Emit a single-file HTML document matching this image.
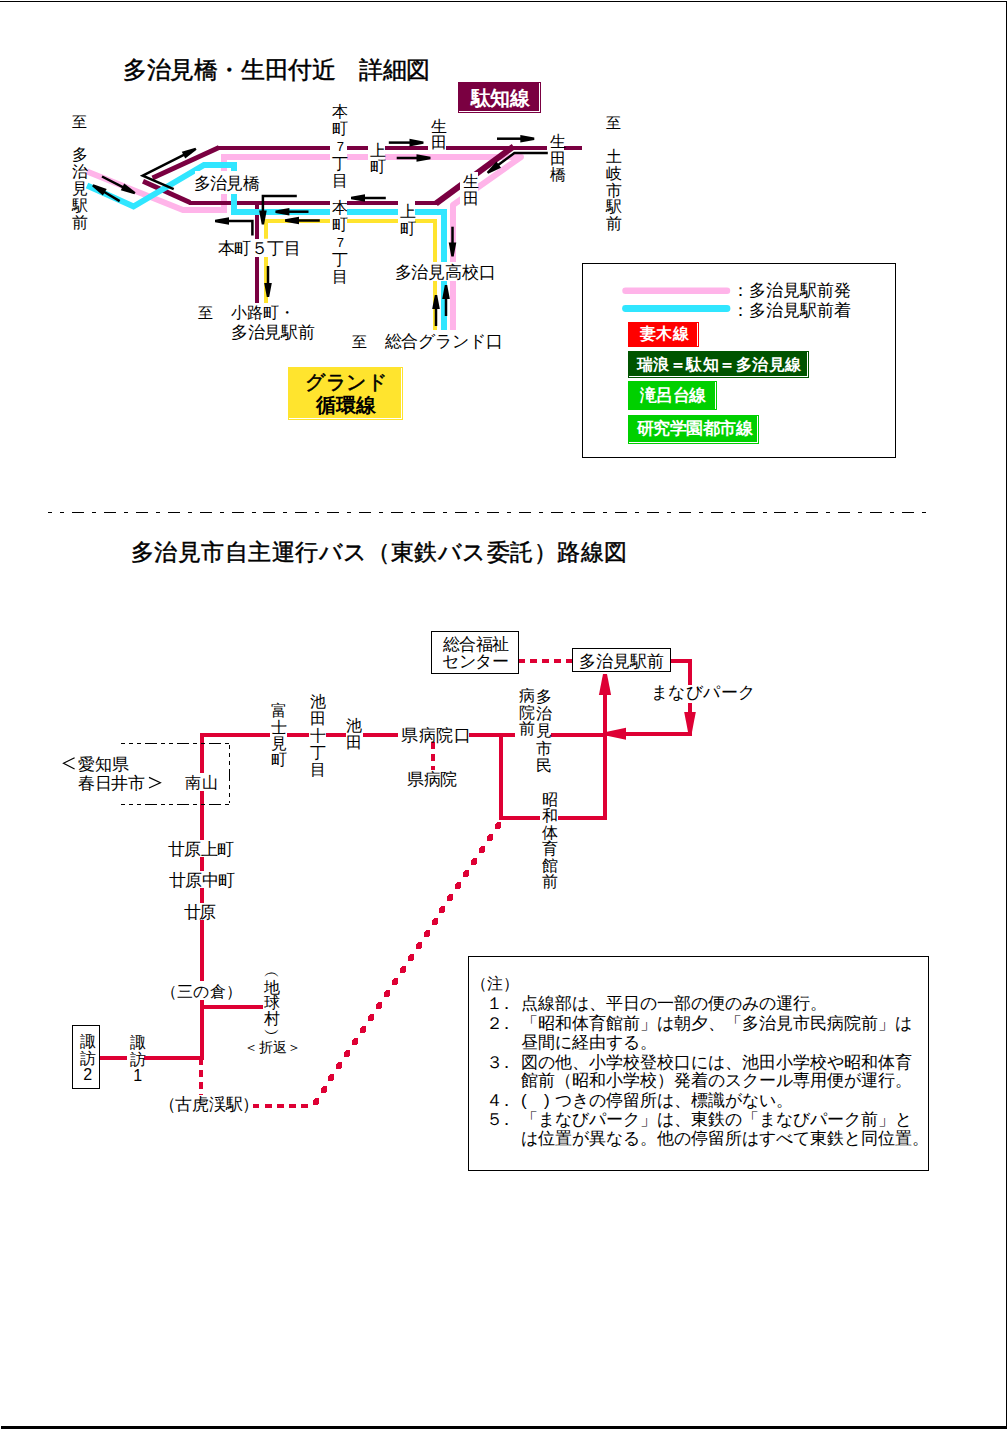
<!DOCTYPE html>
<html lang="ja"><head><meta charset="utf-8"><title>路線図</title>
<style>
html,body{margin:0;padding:0;background:#fff;}
body{width:1008px;height:1430px;position:relative;overflow:hidden;font-family:"Liberation Sans",sans-serif;color:#000;}
.t{position:absolute;white-space:nowrap;}
.bgx{position:absolute;background:#fff;}
</style></head><body>
<svg width="1008" height="1430" style="position:absolute;left:0;top:0"><polyline points="87.00,171.50 183.00,210.00 224.00,210.00 224.00,157.00 330.00,157.00" fill="none" stroke="#ffb4e9" stroke-width="6" stroke-linejoin="miter" stroke-linecap="butt" stroke-miterlimit="10" />
<rect x="347.00" y="154.00" width="21.00" height="6.00" fill="#ffb4e9" shape-rendering="crispEdges" />
<polyline points="385.00,157.00 521.00,157.00 453.00,205.00 453.00,330.00" fill="none" stroke="#ffb4e9" stroke-width="6" stroke-linejoin="round" stroke-linecap="butt" stroke-miterlimit="10" />
<rect x="218.00" y="146.00" width="112.00" height="4.00" fill="#7a0041" shape-rendering="crispEdges" />
<rect x="347.00" y="146.00" width="21.00" height="4.00" fill="#7a0041" shape-rendering="crispEdges" />
<rect x="385.00" y="146.00" width="43.00" height="4.00" fill="#7a0041" shape-rendering="crispEdges" />
<rect x="446.00" y="146.00" width="101.00" height="4.00" fill="#7a0041" shape-rendering="crispEdges" />
<rect x="564.00" y="146.00" width="18.00" height="4.00" fill="#7a0041" shape-rendering="crispEdges" />
<polyline points="219.00,147.50 152.50,178.00" fill="none" stroke="#7a0041" stroke-width="4.8" stroke-linejoin="miter" stroke-linecap="butt" stroke-miterlimit="10" />
<polyline points="143.00,181.20 190.00,202.50" fill="none" stroke="#7a0041" stroke-width="4.8" stroke-linejoin="miter" stroke-linecap="butt" stroke-miterlimit="10" />
<rect x="189.00" y="201.00" width="141.00" height="4.00" fill="#7a0041" shape-rendering="crispEdges" />
<rect x="347.00" y="201.00" width="51.00" height="4.00" fill="#7a0041" shape-rendering="crispEdges" />
<rect x="415.00" y="201.00" width="22.00" height="4.00" fill="#7a0041" shape-rendering="crispEdges" />
<polyline points="436.00,203.50 513.50,146.50" fill="none" stroke="#7a0041" stroke-width="6" stroke-linejoin="miter" stroke-linecap="butt" stroke-miterlimit="10" />
<rect x="255.00" y="203.00" width="4.00" height="35.70" fill="#7a0041" shape-rendering="crispEdges" />
<rect x="255.00" y="256.50" width="4.00" height="46.50" fill="#7a0041" shape-rendering="crispEdges" />
<polyline points="87.00,185.50 133.50,206.50 204.00,165.00 234.00,165.00 234.00,212.00 330.00,212.00" fill="none" stroke="#30e6ff" stroke-width="6" stroke-linejoin="miter" stroke-linecap="butt" stroke-miterlimit="10" />
<rect x="347.00" y="209.00" width="51.00" height="6.00" fill="#30e6ff" shape-rendering="crispEdges" />
<polyline points="415.00,212.00 444.00,212.00 444.00,330.00" fill="none" stroke="#30e6ff" stroke-width="6" stroke-linejoin="miter" stroke-linecap="butt" stroke-miterlimit="10" />
<polyline points="266.00,238.70 266.00,221.00 330.00,221.00" fill="none" stroke="#ffe42e" stroke-width="4" stroke-linejoin="miter" stroke-linecap="butt" stroke-miterlimit="10" />
<rect x="264.00" y="256.50" width="4.00" height="46.50" fill="#ffe42e" shape-rendering="crispEdges" />
<rect x="347.00" y="219.00" width="51.00" height="4.00" fill="#ffe42e" shape-rendering="crispEdges" />
<polyline points="415.00,221.00 435.00,221.00 435.00,330.00" fill="none" stroke="#ffe42e" stroke-width="4" stroke-linejoin="miter" stroke-linecap="butt" stroke-miterlimit="10" />
<polyline points="102.00,176.50 124.29,187.78" fill="none" stroke="#000" stroke-width="2.5" stroke-linejoin="miter" stroke-linecap="butt" stroke-miterlimit="10" />
<polygon points="134.46,194.27 120.79,190.27 124.22,183.49 135.54,192.13" fill="#000"/>
<polyline points="119.70,201.10 103.04,191.29" fill="none" stroke="#000" stroke-width="2.5" stroke-linejoin="miter" stroke-linecap="butt" stroke-miterlimit="10" />
<polygon points="93.31,184.17 106.69,189.03 102.84,195.58 92.09,186.23" fill="#000"/>
<polyline points="173.70,189.20 142.70,175.70 185.30,154.12" fill="none" stroke="#000" stroke-width="2.5" stroke-linejoin="miter" stroke-linecap="butt" stroke-miterlimit="10" />
<polygon points="196.54,149.77 185.23,158.42 181.79,151.64 195.46,147.63" fill="#000"/>
<polyline points="388.80,142.60 411.50,142.60" fill="none" stroke="#000" stroke-width="2.5" stroke-linejoin="miter" stroke-linecap="butt" stroke-miterlimit="10" />
<polygon points="423.50,143.80 409.50,146.40 409.50,138.80 423.50,141.40" fill="#000"/>
<polyline points="396.70,158.00 418.50,158.00" fill="none" stroke="#000" stroke-width="2.5" stroke-linejoin="miter" stroke-linecap="butt" stroke-miterlimit="10" />
<polygon points="430.50,159.20 416.50,161.80 416.50,154.20 430.50,156.80" fill="#000"/>
<polyline points="497.00,138.70 522.30,138.70" fill="none" stroke="#000" stroke-width="2.5" stroke-linejoin="miter" stroke-linecap="butt" stroke-miterlimit="10" />
<polygon points="534.30,139.90 520.30,142.50 520.30,134.90 534.30,137.50" fill="#000"/>
<polyline points="547.80,153.00 514.40,153.00 497.15,165.76" fill="none" stroke="#000" stroke-width="2.5" stroke-linejoin="miter" stroke-linecap="butt" stroke-miterlimit="10" />
<polygon points="486.79,171.94 496.50,161.52 501.01,167.63 488.21,173.86" fill="#000"/>
<polyline points="452.50,226.70 452.50,244.50" fill="none" stroke="#000" stroke-width="2.5" stroke-linejoin="miter" stroke-linecap="butt" stroke-miterlimit="10" />
<polygon points="451.30,256.50 448.70,242.50 456.30,242.50 453.70,256.50" fill="#000"/>
<polyline points="446.00,316.00 446.00,297.00" fill="none" stroke="#000" stroke-width="2.5" stroke-linejoin="miter" stroke-linecap="butt" stroke-miterlimit="10" />
<polygon points="447.20,285.00 449.80,299.00 442.20,299.00 444.80,285.00" fill="#000"/>
<polyline points="436.00,326.00 436.00,307.00" fill="none" stroke="#000" stroke-width="2.5" stroke-linejoin="miter" stroke-linecap="butt" stroke-miterlimit="10" />
<polygon points="437.20,295.00 439.80,309.00 432.20,309.00 434.80,295.00" fill="#000"/>
<polyline points="385.80,198.00 363.00,198.00" fill="none" stroke="#000" stroke-width="2.5" stroke-linejoin="miter" stroke-linecap="butt" stroke-miterlimit="10" />
<polygon points="351.00,196.80 365.00,194.20 365.00,201.80 351.00,199.20" fill="#000"/>
<polyline points="308.50,211.70 287.40,211.70" fill="none" stroke="#000" stroke-width="2.5" stroke-linejoin="miter" stroke-linecap="butt" stroke-miterlimit="10" />
<polygon points="275.40,210.50 289.40,207.90 289.40,215.50 275.40,212.90" fill="#000"/>
<polyline points="319.80,220.50 297.00,220.50" fill="none" stroke="#000" stroke-width="2.5" stroke-linejoin="miter" stroke-linecap="butt" stroke-miterlimit="10" />
<polygon points="285.00,219.30 299.00,216.70 299.00,224.30 285.00,221.70" fill="#000"/>
<polyline points="296.80,195.90 262.90,195.90 262.90,212.40" fill="none" stroke="#000" stroke-width="2.5" stroke-linejoin="miter" stroke-linecap="butt" stroke-miterlimit="10" />
<polygon points="261.70,224.40 259.10,210.40 266.70,210.40 264.10,224.40" fill="#000"/>
<polyline points="252.40,235.60 252.40,221.00 227.00,221.00" fill="none" stroke="#000" stroke-width="2.5" stroke-linejoin="miter" stroke-linecap="butt" stroke-miterlimit="10" />
<polygon points="215.00,219.80 229.00,217.20 229.00,224.80 215.00,222.20" fill="#000"/>
<polyline points="268.00,266.00 268.00,285.00" fill="none" stroke="#000" stroke-width="2.5" stroke-linejoin="miter" stroke-linecap="butt" stroke-miterlimit="10" />
<polygon points="266.80,297.00 264.20,283.00 271.80,283.00 269.20,297.00" fill="#000"/>
<rect x="582.5" y="263.5" width="313" height="194" fill="none" stroke="#000" stroke-width="1"/>
<line x1="625.50" y1="290.80" x2="727.00" y2="290.80" stroke="#ffb4e9" stroke-width="6.5" stroke-linecap="round" />
<line x1="625.50" y1="308.50" x2="727.00" y2="308.50" stroke="#30e6ff" stroke-width="6.8" stroke-linecap="round" />
<rect x="628.00" y="322.00" width="71.00" height="25.00" fill="#ff0000" shape-rendering="crispEdges" />
<rect x="697.00" y="323.00" width="1.00" height="23.00" fill="#fff" shape-rendering="crispEdges" />
<rect x="628.00" y="351.00" width="181.00" height="27.00" fill="#005400" shape-rendering="crispEdges" />
<rect x="807.00" y="352.00" width="1.00" height="25.00" fill="#fff" shape-rendering="crispEdges" />
<rect x="629.00" y="376.00" width="179.00" height="1.00" fill="#fff" shape-rendering="crispEdges" />
<rect x="628.00" y="381.00" width="89.00" height="29.00" fill="#00d000" shape-rendering="crispEdges" />
<rect x="715.00" y="382.00" width="1.00" height="27.00" fill="#fff" shape-rendering="crispEdges" />
<rect x="628.00" y="415.00" width="131.00" height="29.00" fill="#00d000" shape-rendering="crispEdges" />
<rect x="757.00" y="416.00" width="1.00" height="27.00" fill="#fff" shape-rendering="crispEdges" />
<rect x="629.00" y="442.00" width="129.00" height="1.00" fill="#fff" shape-rendering="crispEdges" />
<rect x="288.00" y="367.00" width="115.00" height="53.00" fill="#ffe42e" shape-rendering="crispEdges" />
<rect x="401.00" y="368.00" width="1.00" height="51.00" fill="#fff" shape-rendering="crispEdges" />
<rect x="289.00" y="418.00" width="113.00" height="1.00" fill="#fff" shape-rendering="crispEdges" />
<rect x="458.00" y="82.00" width="83.00" height="31.00" fill="#7a0041" shape-rendering="crispEdges" />
<rect x="539.00" y="83.00" width="1.00" height="29.00" fill="#fff" shape-rendering="crispEdges" />
<rect x="459.00" y="111.00" width="81.00" height="1.00" fill="#fff" shape-rendering="crispEdges" />
<rect x="48.00" y="512.00" width="4.00" height="1.00" fill="#000" shape-rendering="crispEdges" />
<rect x="60.00" y="512.00" width="4.00" height="1.00" fill="#000" shape-rendering="crispEdges" />
<rect x="72.00" y="512.00" width="12.00" height="1.00" fill="#000" shape-rendering="crispEdges" />
<rect x="92.00" y="512.00" width="4.00" height="1.00" fill="#000" shape-rendering="crispEdges" />
<rect x="104.00" y="512.00" width="12.00" height="1.00" fill="#000" shape-rendering="crispEdges" />
<rect x="124.00" y="512.00" width="4.00" height="1.00" fill="#000" shape-rendering="crispEdges" />
<rect x="136.00" y="512.00" width="12.00" height="1.00" fill="#000" shape-rendering="crispEdges" />
<rect x="156.00" y="512.00" width="4.00" height="1.00" fill="#000" shape-rendering="crispEdges" />
<rect x="168.00" y="512.00" width="12.00" height="1.00" fill="#000" shape-rendering="crispEdges" />
<rect x="188.00" y="512.00" width="4.00" height="1.00" fill="#000" shape-rendering="crispEdges" />
<rect x="200.00" y="512.00" width="12.00" height="1.00" fill="#000" shape-rendering="crispEdges" />
<rect x="220.00" y="512.00" width="4.00" height="1.00" fill="#000" shape-rendering="crispEdges" />
<rect x="232.00" y="512.00" width="12.00" height="1.00" fill="#000" shape-rendering="crispEdges" />
<rect x="252.00" y="512.00" width="4.00" height="1.00" fill="#000" shape-rendering="crispEdges" />
<rect x="263.00" y="512.00" width="12.00" height="1.00" fill="#000" shape-rendering="crispEdges" />
<rect x="283.00" y="512.00" width="4.00" height="1.00" fill="#000" shape-rendering="crispEdges" />
<rect x="295.00" y="512.00" width="12.00" height="1.00" fill="#000" shape-rendering="crispEdges" />
<rect x="315.00" y="512.00" width="4.00" height="1.00" fill="#000" shape-rendering="crispEdges" />
<rect x="327.00" y="512.00" width="12.00" height="1.00" fill="#000" shape-rendering="crispEdges" />
<rect x="347.00" y="512.00" width="4.00" height="1.00" fill="#000" shape-rendering="crispEdges" />
<rect x="359.00" y="512.00" width="12.00" height="1.00" fill="#000" shape-rendering="crispEdges" />
<rect x="379.00" y="512.00" width="4.00" height="1.00" fill="#000" shape-rendering="crispEdges" />
<rect x="391.00" y="512.00" width="12.00" height="1.00" fill="#000" shape-rendering="crispEdges" />
<rect x="411.00" y="512.00" width="4.00" height="1.00" fill="#000" shape-rendering="crispEdges" />
<rect x="423.00" y="512.00" width="12.00" height="1.00" fill="#000" shape-rendering="crispEdges" />
<rect x="443.00" y="512.00" width="4.00" height="1.00" fill="#000" shape-rendering="crispEdges" />
<rect x="455.00" y="512.00" width="12.00" height="1.00" fill="#000" shape-rendering="crispEdges" />
<rect x="475.00" y="512.00" width="4.00" height="1.00" fill="#000" shape-rendering="crispEdges" />
<rect x="487.00" y="512.00" width="12.00" height="1.00" fill="#000" shape-rendering="crispEdges" />
<rect x="507.00" y="512.00" width="4.00" height="1.00" fill="#000" shape-rendering="crispEdges" />
<rect x="519.00" y="512.00" width="12.00" height="1.00" fill="#000" shape-rendering="crispEdges" />
<rect x="539.00" y="512.00" width="4.00" height="1.00" fill="#000" shape-rendering="crispEdges" />
<rect x="551.00" y="512.00" width="12.00" height="1.00" fill="#000" shape-rendering="crispEdges" />
<rect x="571.00" y="512.00" width="4.00" height="1.00" fill="#000" shape-rendering="crispEdges" />
<rect x="583.00" y="512.00" width="12.00" height="1.00" fill="#000" shape-rendering="crispEdges" />
<rect x="603.00" y="512.00" width="4.00" height="1.00" fill="#000" shape-rendering="crispEdges" />
<rect x="615.00" y="512.00" width="12.00" height="1.00" fill="#000" shape-rendering="crispEdges" />
<rect x="635.00" y="512.00" width="4.00" height="1.00" fill="#000" shape-rendering="crispEdges" />
<rect x="647.00" y="512.00" width="12.00" height="1.00" fill="#000" shape-rendering="crispEdges" />
<rect x="667.00" y="512.00" width="4.00" height="1.00" fill="#000" shape-rendering="crispEdges" />
<rect x="679.00" y="512.00" width="12.00" height="1.00" fill="#000" shape-rendering="crispEdges" />
<rect x="699.00" y="512.00" width="4.00" height="1.00" fill="#000" shape-rendering="crispEdges" />
<rect x="711.00" y="512.00" width="12.00" height="1.00" fill="#000" shape-rendering="crispEdges" />
<rect x="731.00" y="512.00" width="4.00" height="1.00" fill="#000" shape-rendering="crispEdges" />
<rect x="743.00" y="512.00" width="12.00" height="1.00" fill="#000" shape-rendering="crispEdges" />
<rect x="763.00" y="512.00" width="4.00" height="1.00" fill="#000" shape-rendering="crispEdges" />
<rect x="774.00" y="512.00" width="12.00" height="1.00" fill="#000" shape-rendering="crispEdges" />
<rect x="794.00" y="512.00" width="4.00" height="1.00" fill="#000" shape-rendering="crispEdges" />
<rect x="806.00" y="512.00" width="12.00" height="1.00" fill="#000" shape-rendering="crispEdges" />
<rect x="826.00" y="512.00" width="4.00" height="1.00" fill="#000" shape-rendering="crispEdges" />
<rect x="838.00" y="512.00" width="12.00" height="1.00" fill="#000" shape-rendering="crispEdges" />
<rect x="858.00" y="512.00" width="4.00" height="1.00" fill="#000" shape-rendering="crispEdges" />
<rect x="870.00" y="512.00" width="12.00" height="1.00" fill="#000" shape-rendering="crispEdges" />
<rect x="890.00" y="512.00" width="4.00" height="1.00" fill="#000" shape-rendering="crispEdges" />
<rect x="902.00" y="512.00" width="12.00" height="1.00" fill="#000" shape-rendering="crispEdges" />
<rect x="922.00" y="512.00" width="4.00" height="1.00" fill="#000" shape-rendering="crispEdges" />
<rect x="431.5" y="631.5" width="87" height="42" fill="none" stroke="#000" stroke-width="1"/>
<rect x="572.5" y="648.5" width="98" height="23" fill="none" stroke="#000" stroke-width="1"/>
<rect x="72.5" y="1025.5" width="27" height="63" fill="none" stroke="#000" stroke-width="1"/>
<rect x="468.5" y="956.5" width="460" height="214" fill="none" stroke="#000" stroke-width="1"/>
<rect x="200.00" y="733.00" width="70.00" height="4.00" fill="#de0034" shape-rendering="crispEdges" />
<rect x="287.00" y="733.00" width="22.00" height="4.00" fill="#de0034" shape-rendering="crispEdges" />
<rect x="325.70" y="733.00" width="20.00" height="4.00" fill="#de0034" shape-rendering="crispEdges" />
<rect x="363.00" y="733.00" width="34.60" height="4.00" fill="#de0034" shape-rendering="crispEdges" />
<rect x="469.00" y="733.00" width="46.00" height="4.00" fill="#de0034" shape-rendering="crispEdges" />
<rect x="550.50" y="733.00" width="54.50" height="4.00" fill="#de0034" shape-rendering="crispEdges" />
<rect x="605.00" y="732.00" width="87.00" height="4.00" fill="#de0034" shape-rendering="crispEdges" />
<rect x="200.00" y="733.00" width="4.00" height="40.00" fill="#de0034" shape-rendering="crispEdges" />
<rect x="200.00" y="790.70" width="4.00" height="48.90" fill="#de0034" shape-rendering="crispEdges" />
<rect x="200.00" y="857.00" width="4.00" height="14.00" fill="#de0034" shape-rendering="crispEdges" />
<rect x="200.00" y="887.90" width="4.00" height="15.10" fill="#de0034" shape-rendering="crispEdges" />
<rect x="200.00" y="920.00" width="4.00" height="60.70" fill="#de0034" shape-rendering="crispEdges" />
<rect x="200.00" y="1000.00" width="4.00" height="60.00" fill="#de0034" shape-rendering="crispEdges" />
<rect x="202.00" y="1005.00" width="61.20" height="4.00" fill="#de0034" shape-rendering="crispEdges" />
<rect x="99.60" y="1056.00" width="27.40" height="4.00" fill="#de0034" shape-rendering="crispEdges" />
<rect x="144.40" y="1056.00" width="59.60" height="4.00" fill="#de0034" shape-rendering="crispEdges" />
<rect x="199.00" y="1059.00" width="4.00" height="6.00" fill="#de0034" shape-rendering="crispEdges" />
<rect x="199.00" y="1070.00" width="4.00" height="7.00" fill="#de0034" shape-rendering="crispEdges" />
<rect x="199.00" y="1082.00" width="4.00" height="7.00" fill="#de0034" shape-rendering="crispEdges" />
<rect x="199.00" y="1094.00" width="4.00" height="1.00" fill="#de0034" shape-rendering="crispEdges" />
<rect x="253.00" y="1104.00" width="6.00" height="4.00" fill="#de0034" shape-rendering="crispEdges" />
<rect x="265.00" y="1104.00" width="7.00" height="4.00" fill="#de0034" shape-rendering="crispEdges" />
<rect x="277.00" y="1104.00" width="7.00" height="4.00" fill="#de0034" shape-rendering="crispEdges" />
<rect x="289.00" y="1104.00" width="7.00" height="4.00" fill="#de0034" shape-rendering="crispEdges" />
<rect x="301.00" y="1104.00" width="7.00" height="4.00" fill="#de0034" shape-rendering="crispEdges" />
<polygon points="497,822 501,822 501,826.5 500,829 495,829 495,825" fill="#de0034" shape-rendering="crispEdges"/>
<polygon points="489,834 493,834 493,838.5 492,841 487,841 487,837" fill="#de0034" shape-rendering="crispEdges"/>
<polygon points="481,846 485,846 485,850.5 484,853 479,853 479,849" fill="#de0034" shape-rendering="crispEdges"/>
<polygon points="473,858 477,858 477,862.5 476,865 471,865 471,861" fill="#de0034" shape-rendering="crispEdges"/>
<polygon points="465,870 469,870 469,874.5 468,877 463,877 463,873" fill="#de0034" shape-rendering="crispEdges"/>
<polygon points="457,882 461,882 461,886.5 460,889 455,889 455,885" fill="#de0034" shape-rendering="crispEdges"/>
<polygon points="449,894 453,894 453,898.5 452,901 447,901 447,897" fill="#de0034" shape-rendering="crispEdges"/>
<polygon points="441,906 445,906 445,910.5 444,913 439,913 439,909" fill="#de0034" shape-rendering="crispEdges"/>
<polygon points="434,918 438,918 438,922.5 437,925 432,925 432,921" fill="#de0034" shape-rendering="crispEdges"/>
<polygon points="426,930 430,930 430,934.5 429,937 424,937 424,933" fill="#de0034" shape-rendering="crispEdges"/>
<polygon points="418,942 422,942 422,946.5 421,949 416,949 416,945" fill="#de0034" shape-rendering="crispEdges"/>
<polygon points="410,954 414,954 414,958.5 413,961 408,961 408,957" fill="#de0034" shape-rendering="crispEdges"/>
<polygon points="402,966 406,966 406,970.5 405,973 400,973 400,969" fill="#de0034" shape-rendering="crispEdges"/>
<polygon points="394,978 398,978 398,982.5 397,985 392,985 392,981" fill="#de0034" shape-rendering="crispEdges"/>
<polygon points="386,990 390,990 390,994.5 389,997 384,997 384,993" fill="#de0034" shape-rendering="crispEdges"/>
<polygon points="378,1002 382,1002 382,1006.5 381,1009 376,1009 376,1005" fill="#de0034" shape-rendering="crispEdges"/>
<polygon points="370,1014 374,1014 374,1018.5 373,1021 368,1021 368,1017" fill="#de0034" shape-rendering="crispEdges"/>
<polygon points="362,1026 366,1026 366,1030.5 365,1033 360,1033 360,1029" fill="#de0034" shape-rendering="crispEdges"/>
<polygon points="354,1038 358,1038 358,1042.5 357,1045 352,1045 352,1041" fill="#de0034" shape-rendering="crispEdges"/>
<polygon points="346,1050 350,1050 350,1054.5 349,1057 344,1057 344,1053" fill="#de0034" shape-rendering="crispEdges"/>
<polygon points="338,1062 342,1062 342,1066.5 341,1069 336,1069 336,1065" fill="#de0034" shape-rendering="crispEdges"/>
<polygon points="330,1074 334,1074 334,1078.5 333,1081 328,1081 328,1077" fill="#de0034" shape-rendering="crispEdges"/>
<polygon points="323,1086 327,1086 327,1090.5 326,1093 321,1093 321,1089" fill="#de0034" shape-rendering="crispEdges"/>
<polygon points="315,1098 319,1098 319,1102.5 318,1105 313,1105 313,1101" fill="#de0034" shape-rendering="crispEdges"/>
<rect x="499.00" y="733.00" width="4.00" height="87.00" fill="#de0034" shape-rendering="crispEdges" />
<rect x="499.00" y="816.00" width="40.50" height="4.00" fill="#de0034" shape-rendering="crispEdges" />
<rect x="557.80" y="816.00" width="49.20" height="4.00" fill="#de0034" shape-rendering="crispEdges" />
<rect x="603.00" y="690.00" width="4.00" height="130.00" fill="#de0034" shape-rendering="crispEdges" />
<polygon points="607.00,674.00 611.10,695.00 598.90,695.00 603.00,674.00" fill="#de0034"/>
<rect x="671.00" y="659.00" width="21.00" height="4.00" fill="#de0034" shape-rendering="crispEdges" />
<rect x="688.00" y="659.00" width="4.00" height="25.70" fill="#de0034" shape-rendering="crispEdges" />
<rect x="688.00" y="703.30" width="4.00" height="12.70" fill="#de0034" shape-rendering="crispEdges" />
<polygon points="688.00,732.00 684.20,712.00 695.80,712.00 692.00,732.00" fill="#de0034"/>
<polygon points="607.00,731.80 626.00,727.80 626.00,739.80 607.00,735.80" fill="#de0034"/>
<rect x="519.00" y="659.00" width="6.00" height="4.00" fill="#de0034" shape-rendering="crispEdges" />
<rect x="530.00" y="659.00" width="7.00" height="4.00" fill="#de0034" shape-rendering="crispEdges" />
<rect x="542.00" y="659.00" width="7.00" height="4.00" fill="#de0034" shape-rendering="crispEdges" />
<rect x="554.00" y="659.00" width="7.00" height="4.00" fill="#de0034" shape-rendering="crispEdges" />
<rect x="566.00" y="659.00" width="6.00" height="4.00" fill="#de0034" shape-rendering="crispEdges" />
<rect x="431.00" y="742.00" width="4.00" height="7.00" fill="#de0034" shape-rendering="crispEdges" />
<rect x="431.00" y="754.00" width="4.00" height="7.00" fill="#de0034" shape-rendering="crispEdges" />
<rect x="431.00" y="766.00" width="4.00" height="4.00" fill="#de0034" shape-rendering="crispEdges" />
<line x1="121.00" y1="743.50" x2="230.00" y2="743.50" stroke="#000" stroke-width="1" stroke-linecap="butt" stroke-dasharray="12 4 4 4 4 4" stroke-dashoffset="8"/>
<line x1="121.00" y1="804.50" x2="230.00" y2="804.50" stroke="#000" stroke-width="1" stroke-linecap="butt" stroke-dasharray="12 4 4 4 4 4" stroke-dashoffset="8"/>
<line x1="229.50" y1="745.00" x2="229.50" y2="803.00" stroke="#000" stroke-width="1" stroke-linecap="butt" stroke-dasharray="4 4 4 4 4 4 12 4"/>
<polyline points="74.60,757.70 63.50,763.30 74.60,769.00" fill="none" stroke="#000" stroke-width="1.2" stroke-linejoin="miter" stroke-linecap="butt" stroke-miterlimit="10" />
<polyline points="149.00,777.40 160.40,782.70 149.00,788.00" fill="none" stroke="#000" stroke-width="1.2" stroke-linejoin="miter" stroke-linecap="butt" stroke-miterlimit="10" />
<rect x="0.00" y="1.00" width="1007.00" height="1.00" fill="#000" shape-rendering="crispEdges" />
<rect x="1006.00" y="1.00" width="1.00" height="1428.00" fill="#000" shape-rendering="crispEdges" />
<rect x="1.00" y="1426.00" width="1006.00" height="3.00" fill="#000" shape-rendering="crispEdges" /></svg>
<div class="t" style="left:123.00px;top:57.50px;font-size:24px;line-height:24px;letter-spacing:-0.4px;color:#000;-webkit-text-stroke:0.45px #000;">多治見橋・生田付近　詳細図</div>
<div class="t" style="left:72.00px;top:114.00px;font-size:15px;line-height:15px;letter-spacing:0px;color:#000;">至</div>
<div class="t" style="left:69.50px;top:146.00px;width:20.80px;font-size:16px;line-height:17.050px;text-align:center;color:#000;">多<br>治<br>見<br>駅<br>前</div>
<div class="bgx" style="left:194.80px;top:171.30px;width:63.95px;height:22.80px"></div>
<div class="t" style="left:193.80px;top:175.00px;font-size:17px;line-height:17px;letter-spacing:-0.7px;color:#000;">多治見橋</div>
<div class="t" style="left:330.00px;top:103.85px;width:20.80px;font-size:16px;line-height:16.975px;text-align:center;color:#000;">本<br>町<br><span style="font-size:13px">7</span><br>丁<br>目</div>
<div class="t" style="left:368.00px;top:142.85px;width:20.80px;font-size:16px;line-height:16.500px;text-align:center;color:#000;">上<br>町</div>
<div class="t" style="left:428.90px;top:118.85px;width:20.80px;font-size:16px;line-height:16.500px;text-align:center;color:#000;">生<br>田</div>
<div class="t" style="left:470.80px;top:88.10px;font-size:20px;line-height:20px;letter-spacing:-0.45px;color:#fff;font-weight:bold;">駄知線</div>
<div class="t" style="left:547.40px;top:134.20px;width:20.80px;font-size:16px;line-height:16.500px;text-align:center;color:#000;">生<br>田<br>橋</div>
<div class="t" style="left:606.00px;top:114.75px;font-size:15px;line-height:15px;letter-spacing:0px;color:#000;">至</div>
<div class="t" style="left:603.50px;top:149.00px;width:20.80px;font-size:16px;line-height:16.800px;text-align:center;color:#000;">土<br>岐<br>市<br>駅<br>前</div>
<div class="bgx" style="left:459.90px;top:172.20px;width:18.40px;height:35.40px"></div>
<div class="t" style="left:460.50px;top:174.40px;width:20.80px;font-size:16px;line-height:16.500px;text-align:center;color:#000;">生<br>田</div>
<div class="t" style="left:330.00px;top:199.85px;width:20.80px;font-size:16px;line-height:16.975px;text-align:center;color:#000;">本<br>町<br><span style="font-size:13px">7</span><br>丁<br>目</div>
<div class="t" style="left:398.00px;top:204.00px;width:20.80px;font-size:16px;line-height:16.500px;text-align:center;color:#000;">上<br>町</div>
<div class="t" style="left:217.80px;top:239.65px;font-size:17px;line-height:17px;letter-spacing:-0.45px;color:#000;">本町５丁目</div>
<div class="t" style="left:198.00px;top:305.00px;font-size:15px;line-height:15px;letter-spacing:0px;color:#000;">至</div>
<div class="t" style="left:230.70px;top:305.00px;font-size:16px;line-height:16px;letter-spacing:0px;color:#000;">小路町・</div>
<div class="t" style="left:230.70px;top:323.50px;font-size:17px;line-height:17px;letter-spacing:-0.15px;color:#000;">多治見駅前</div>
<div class="bgx" style="left:394.50px;top:262.40px;width:99.20px;height:18.90px"></div>
<div class="t" style="left:394.50px;top:263.85px;font-size:17px;line-height:17px;letter-spacing:-0.15px;color:#000;">多治見高校口</div>
<div class="t" style="left:351.80px;top:334.00px;font-size:15px;line-height:15px;letter-spacing:0px;color:#000;">至</div>
<div class="t" style="left:384.60px;top:333.00px;font-size:17px;line-height:17px;letter-spacing:-0.15px;color:#000;">総合グランド口</div>
<div class="t" style="left:732.00px;top:281.50px;font-size:17px;line-height:17px;letter-spacing:0.0px;color:#000;">：多治見駅前発</div>
<div class="t" style="left:732.00px;top:301.50px;font-size:17px;line-height:17px;letter-spacing:0.0px;color:#000;">：多治見駅前着</div>
<div class="t" style="left:639.80px;top:325.95px;font-size:16px;line-height:16px;letter-spacing:0.55px;color:#fff;font-weight:bold;">妻木線</div>
<div class="t" style="left:636.90px;top:356.90px;font-size:16px;line-height:16px;letter-spacing:0.5px;color:#fff;font-weight:bold;">瑞浪＝駄知＝多治見線</div>
<div class="t" style="left:639.80px;top:386.60px;font-size:17px;line-height:17px;letter-spacing:-0.5px;color:#fff;font-weight:bold;">滝呂台線</div>
<div class="t" style="left:636.90px;top:420.35px;font-size:17px;line-height:17px;letter-spacing:-0.5px;color:#fff;font-weight:bold;">研究学園都市線</div>
<div class="t" style="left:305.00px;top:372.00px;font-size:20px;line-height:20px;letter-spacing:0.6px;color:#000;-webkit-text-stroke:0.5px #000;">グランド</div>
<div class="t" style="left:316.00px;top:394.55px;font-size:20px;line-height:20px;letter-spacing:0.2px;color:#000;font-weight:bold;">循環線</div>
<div class="t" style="left:131.00px;top:541.30px;font-size:23px;line-height:23px;letter-spacing:0.45px;color:#000;-webkit-text-stroke:0.45px #000;">多治見市自主運行バス（東鉄バス委託）路線図</div>
<div class="t" style="left:442.80px;top:635.90px;font-size:17px;line-height:17px;letter-spacing:-0.5px;color:#000;">総合福祉</div>
<div class="t" style="left:441.80px;top:652.70px;font-size:17px;line-height:17px;letter-spacing:-0.15px;color:#000;">センター</div>
<div class="t" style="left:578.60px;top:652.70px;font-size:17px;line-height:17px;letter-spacing:0.0px;color:#000;">多治見駅前</div>
<div class="t" style="left:650.80px;top:684.40px;font-size:17px;line-height:17px;letter-spacing:0.45px;color:#000;">まなびパーク</div>
<div class="t" style="left:516.50px;top:688.25px;width:20.80px;font-size:16px;line-height:16.500px;text-align:center;color:#000;">病<br>院<br>前</div>
<div class="t" style="left:533.50px;top:687.55px;width:20.80px;font-size:16px;line-height:17.325px;text-align:center;color:#000;">多<br>治<br>見<br>市<br>民</div>
<div class="t" style="left:268.50px;top:703.40px;width:20.80px;font-size:16px;line-height:16.200px;text-align:center;color:#000;">富<br>士<br>見<br>町</div>
<div class="t" style="left:307.60px;top:694.35px;width:20.80px;font-size:16px;line-height:16.825px;text-align:center;color:#000;">池<br>田<br>十<br>丁<br>目</div>
<div class="t" style="left:343.70px;top:718.00px;width:20.80px;font-size:16px;line-height:16.500px;text-align:center;color:#000;">池<br>田</div>
<div class="t" style="left:401.40px;top:727.00px;font-size:17px;line-height:17px;letter-spacing:0.5px;color:#000;">県病院口</div>
<div class="t" style="left:407.00px;top:770.85px;font-size:17px;line-height:17px;letter-spacing:-0.5px;color:#000;">県病院</div>
<div class="t" style="left:60.80px;top:755.95px;font-size:17px;line-height:17px;letter-spacing:-0.05px;color:#000;">　愛知県</div>
<div class="t" style="left:78.40px;top:775.35px;font-size:17px;line-height:17px;letter-spacing:-0.55px;color:#000;">春日井市</div>
<div class="t" style="left:185.00px;top:775.45px;font-size:16px;line-height:16px;letter-spacing:0.5px;color:#000;">南山</div>
<div class="t" style="left:540.05px;top:792.00px;width:20.80px;font-size:16px;line-height:16.400px;text-align:center;color:#000;">昭<br>和<br>体<br>育<br>館<br>前</div>
<div class="t" style="left:168.00px;top:840.55px;font-size:17px;line-height:17px;letter-spacing:-0.65px;color:#000;">廿原上町</div>
<div class="t" style="left:168.75px;top:871.85px;font-size:17px;line-height:17px;letter-spacing:-0.6px;color:#000;">廿原中町</div>
<div class="t" style="left:184.00px;top:903.50px;font-size:17px;line-height:17px;letter-spacing:-2.0px;color:#000;">廿原</div>
<div class="t" style="left:160.70px;top:983.75px;font-size:16px;line-height:16px;letter-spacing:0.4px;color:#000;">（三の倉）</div>
<div class="t" style="left:261.18px;top:964.25px;width:20.80px;font-size:16px;line-height:15.500px;text-align:center;color:#000;">︵<br>地<br>球<br>村<br>︶</div>
<div class="t" style="left:244.40px;top:1039.88px;font-size:14px;line-height:14px;letter-spacing:0.35px;color:#000;">＜折返＞</div>
<div class="t" style="left:158.80px;top:1096.15px;font-size:17px;line-height:17px;letter-spacing:-0.3px;color:#000;">（古虎渓駅）</div>
<div class="t" style="left:77.35px;top:1034.00px;width:20.80px;font-size:16px;line-height:16.500px;text-align:center;color:#000;">諏<br>訪<br>2</div>
<div class="t" style="left:127.35px;top:1035.35px;width:20.80px;font-size:16px;line-height:16.500px;text-align:center;color:#000;">諏<br>訪<br>1</div>
<div class="t" style="left:470.5px;top:975.0px;font-size:16px;line-height:17px">（注）</div>
<div class="t" style="left:485.5px;top:994.5px;font-size:17px;line-height:17px">１</div>
<div class="t" style="left:497.5px;top:994.5px;font-size:17px;line-height:17px">．</div>
<div class="t" style="left:521px;top:994.5px;font-size:17px;line-height:17px">点線部は、平日の一部の便のみの運行。</div>
<div class="t" style="left:485.5px;top:1014.9px;font-size:17px;line-height:17px">２</div>
<div class="t" style="left:497.5px;top:1014.9px;font-size:17px;line-height:17px">．</div>
<div class="t" style="left:521px;top:1014.9px;font-size:17px;line-height:17px">「昭和体育館前」は朝夕、「多治見市民病院前」は</div>
<div class="t" style="left:521px;top:1034.0px;font-size:17px;line-height:17px">昼間に経由する。</div>
<div class="t" style="left:485.5px;top:1054.0px;font-size:17px;line-height:17px">３</div>
<div class="t" style="left:497.5px;top:1054.0px;font-size:17px;line-height:17px">．</div>
<div class="t" style="left:521px;top:1054.0px;font-size:17px;line-height:17px">図の他、小学校登校口には、池田小学校や昭和体育</div>
<div class="t" style="left:521px;top:1071.5px;font-size:17px;line-height:17px">館前（昭和小学校）発着のスクール専用便が運行。</div>
<div class="t" style="left:485.5px;top:1092.1px;font-size:17px;line-height:17px">４</div>
<div class="t" style="left:497.5px;top:1092.1px;font-size:17px;line-height:17px">．</div>
<div class="t" style="left:521px;top:1092.1px;font-size:17px;line-height:17px"><span style="display:inline-block;width:23px;font-family:Liberation Sans">(</span><span style="display:inline-block;width:11px;font-family:Liberation Sans">)</span>つきの停留所は、標識がない。</div>
<div class="t" style="left:485.5px;top:1111.1px;font-size:17px;line-height:17px">５</div>
<div class="t" style="left:497.5px;top:1111.1px;font-size:17px;line-height:17px">．</div>
<div class="t" style="left:521px;top:1111.1px;font-size:17px;line-height:17px">「まなびパーク」は、東鉄の「まなびパーク前」と</div>
<div class="t" style="left:521px;top:1130.2px;font-size:17px;line-height:17px">は位置が異なる。他の停留所はすべて東鉄と同位置。</div>
</body></html>
